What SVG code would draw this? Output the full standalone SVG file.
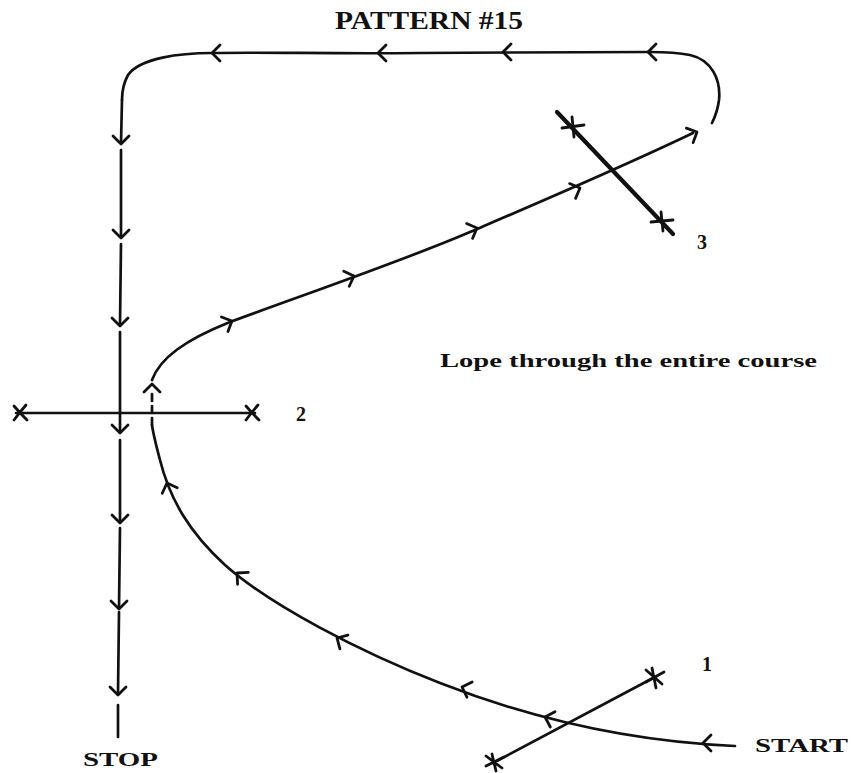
<svg xmlns="http://www.w3.org/2000/svg" width="855" height="773" viewBox="0 0 855 773">
<style>
.ln{fill:none;stroke:#111;stroke-width:2.7;stroke-linecap:round;stroke-linejoin:round}
.ah{fill:none;stroke:#111;stroke-width:2.8;stroke-linecap:round;stroke-linejoin:round}
.mk{fill:none;stroke:#111;stroke-width:2.8;stroke-linecap:round}
.t{font-family:"Liberation Serif","Times New Roman",serif;font-weight:bold;fill:#111}
</style>
<defs>
<path id="chev" d="M-8,-8 L0,0 L-8,8"/>
</defs>
<rect width="855" height="773" fill="#fff"/>
<text class="t" x="335" y="29" font-size="25" textLength="188" lengthAdjust="spacingAndGlyphs">PATTERN #15</text>

<g id="connectors">
  <!-- start to marker 2 -->
  <path class="ln" d="M735,746 C640,742 540,722 440,683 C360,652 270,605 225,565 C190,533 170,500 160,460 C156,445 153,432 152,425"/>
  <path class="ln" d="M152,425 L152,393" stroke-dasharray="7,5"/>
  <!-- marker 2 to marker 3 -->
  <path class="ln" d="M152,380 C160,358 185,340 230,322 C300,296 400,262 470,232 C540,202 620,168 693,133"/>
  <!-- loop over the top and down to stop -->
  <path class="ln" d="M712,123 C716,115 718,108 719,100 C721,80 712,60 690,55 C675,52 665,52 650,52 C560,53 500,52 420,53 C330,54 270,52 212,53 C180,53 140,58 128,75 C123,84 122,92 122,100"/>
  <path class="ln" d="M122,100 L121,143 M121,150 L121,237 M121,244 L120,325 M120,332 L120,432 M120,440 L120,522 M120,528 L119,608 M119,612 L118,693 M118,705 L118,737"/>
  <!-- arrowheads -->
  <use href="#chev" class="ah" transform="translate(703,743) rotate(180)"/>
  <use href="#chev" class="ah" transform="translate(545,717) rotate(197)"/>
  <use href="#chev" class="ah" transform="translate(462,687) rotate(199)"/>
  <use href="#chev" class="ah" transform="translate(337,638) rotate(210)"/>
  <use href="#chev" class="ah" transform="translate(237,573) rotate(222)"/>
  <use href="#chev" class="ah" transform="translate(167,483) rotate(250)"/>
  <use href="#chev" class="ah" transform="translate(152,384) rotate(270)"/>
  <use href="#chev" class="ah" transform="translate(232,321) rotate(-24)"/>
  <use href="#chev" class="ah" transform="translate(354,276) rotate(-20)"/>
  <use href="#chev" class="ah" transform="translate(477,228) rotate(-22)"/>
  <use href="#chev" class="ah" transform="translate(580,188) rotate(-22)"/>
  <use href="#chev" class="ah" transform="translate(697,132) rotate(-25)"/>
  <use href="#chev" class="ah" transform="translate(648,52) rotate(180)"/>
  <use href="#chev" class="ah" transform="translate(503,52) rotate(180)"/>
  <use href="#chev" class="ah" transform="translate(378,53) rotate(180)"/>
  <use href="#chev" class="ah" transform="translate(212,53) rotate(180)"/>
  <use href="#chev" class="ah" transform="translate(121,144) rotate(90)"/>
  <use href="#chev" class="ah" transform="translate(121,238) rotate(90)"/>
  <use href="#chev" class="ah" transform="translate(120,326) rotate(90)"/>
  <use href="#chev" class="ah" transform="translate(120,433) rotate(90)"/>
  <use href="#chev" class="ah" transform="translate(120,523) rotate(90)"/>
  <use href="#chev" class="ah" transform="translate(119,609) rotate(90)"/>
  <use href="#chev" class="ah" transform="translate(118,695) rotate(90)"/>
</g>

<g id="marker1">
  <path class="ln" d="M493,763 L655,677"/>
  <path class="mk" d="M646,670 L662,684 M646,682 L664,672 M652,668 L656,688"/>
  <path class="mk" d="M486,756 L502,768 M486,766 L504,757 M492,754 L496,771"/>
  <text class="t" x="702" y="671" font-size="20">1</text>
</g>

<g id="marker2">
  <path class="ln" d="M16,413 L255,413"/>
  <path class="mk" d="M14,406 Q20,413 27,420 M14,420 Q20,412 26,405"/>
  <path class="mk" d="M246,406 Q252,413 259,420 M246,420 Q252,412 258,405"/>
  <text class="t" x="296" y="421" font-size="20">2</text>
</g>

<g id="marker3">
  <path d="M557,112 L673,234" fill="none" stroke="#111" stroke-width="4.2" stroke-linecap="round"/>
  <path class="mk" d="M562,128 L584,125 M572,117 L574,137"/>
  <path class="mk" d="M651,222 L673,220 M661,212 L663,231"/>
  <text class="t" x="697" y="249" font-size="20">3</text>
</g>

<g id="labels">
  <text class="t" x="440" y="367" font-size="18" textLength="377" lengthAdjust="spacingAndGlyphs">Lope through the entire course</text>
  <text class="t" x="755" y="752" font-size="19" textLength="93" lengthAdjust="spacingAndGlyphs">START</text>
  <text class="t" x="83" y="766" font-size="19" textLength="75" lengthAdjust="spacingAndGlyphs">STOP</text>
</g>
</svg>
